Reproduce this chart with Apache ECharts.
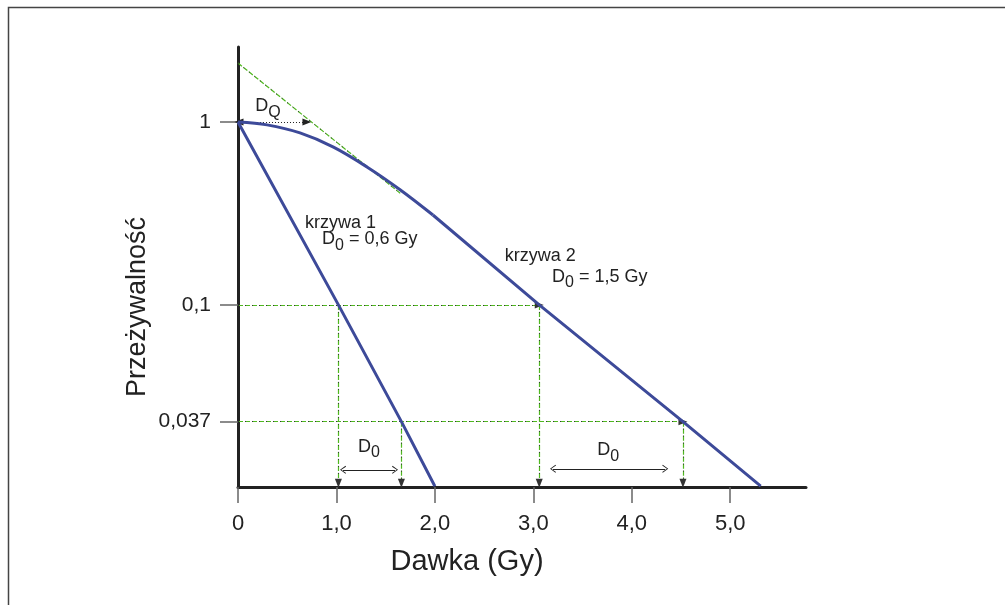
<!DOCTYPE html>
<html>
<head>
<meta charset="utf-8">
<script src="https://cdn.jsdelivr.net/npm/echarts@6/dist/echarts.min.js"></script>
<style>
  html, body { margin: 0; padding: 0; background: #fff; }
  #chart { width: 1005px; height: 605px; }
</style>
</head>
<body>
<div id="chart"></div>
<script>
const FONT = 'Liberation Sans, Arial, sans-serif';

// x axis (dose, Gy)
const xTicks = [0, 1, 2, 3, 4, 5];
const xTickLabels = ['0', '1,0', '2,0', '3,0', '4,0', '5,0'];

// y axis (survival, drawn on a log scale; the 0,037 level sits where the drawing puts it)
const yLevels = [1, 0.1, 0.023];
const yLevelLabels = ['1', '0,1', '0,037'];

// curves: [dose, survival]
const curve1 = [[0, 1], [1.02, 0.1], [1.66, 0.023], [2.0, 0.0102]];
const curve2 = [
    [0, 1], [0.295, 0.964], [0.63, 0.871], [0.97, 0.729], [1.31, 0.568],
    [1.65, 0.425], [1.98, 0.31], [3.06, 0.1], [4.52, 0.023], [5.31, 0.0102]
];
const shoulderEnd = 6; // index where curve 2 becomes straight

// guide lines
const hGuides = [[3.06, 0.1], [4.52, 0.023]];       // [arrow tip x, level]
const vGuides = [[1.02, 0.1], [1.66, 0.023], [3.06, 0.1], [4.52, 0.023]];
const vGuideTip = 0.0106;
const tangent = [[0, 2.1], [1.65, 0.407]];
const dqArrow = [0.01, 0.70, 1];
const d0Arrows = [[1.067, 1.595, 0.01253], [3.20, 4.34, 0.0127]];

// annotation texts
const notes = [
    { text: '{m|krzywa 1}', coord: [0.68, 0.277], pos: 'right' },
    { text: '{m|D}{s|0}{m| = 0,6 Gy}', coord: [0.854, 0.225], pos: 'right' },
    { text: '{m|krzywa 2}', coord: [2.71, 0.183], pos: 'right' },
    { text: '{m|D}{s|0}{m| = 1,5 Gy}', coord: [3.19, 0.141], pos: 'right' },
    { text: '{m|D}{s|0}', coord: [1.33, 0.0165], pos: 'inside' },
    { text: '{m|D}{s|0}', coord: [3.76, 0.0158], pos: 'inside' },
    { text: '{m|D}{s|Q}', coord: [0.305, 1.2], pos: 'inside' }
];

const CURVE = '#3d4a99';
const GREEN = '#4fb81f';
const DARK = '#222';
const chevron = 'path://M0,10 L5,0 L10,10 L9,11 L5,2.4 L1,11 Z';

function seg(a, b, style, s1, s2, size) {
    return [
        { coord: a, symbol: s1 || 'none', symbolSize: size || 8 },
        { coord: b, symbol: s2 || 'none', symbolSize: size || 8, lineStyle: style }
    ];
}

const greenStyle = { color: GREEN, width: 1.2, type: [5, 2], opacity: 1 };
const dotStyle = { color: '#333', width: 1, type: [1, 6], opacity: 1 };
const guideLines = [];
hGuides.forEach(g => {
    guideLines.push(seg([0, g[1]], [g[0], g[1]], greenStyle));
    guideLines.push(seg([0, g[1]], [g[0], g[1]], dotStyle, 'none', 'triangle', [7, 9]));
});
vGuides.forEach(g => {
    guideLines.push(seg([g[0], g[1]], [g[0], vGuideTip], greenStyle));
    guideLines.push(seg([g[0], g[1]], [g[0], vGuideTip], dotStyle, 'none', 'triangle', [7, 9]));
});
guideLines.push(seg(tangent[0], tangent[1], greenStyle));
guideLines.push(seg(tangent[0], tangent[1], dotStyle));
guideLines.push(seg([dqArrow[0], dqArrow[2]], [dqArrow[1], dqArrow[2]],
    { color: DARK, width: 1, type: [1, 2], opacity: 1 }, 'triangle', 'triangle', [7, 9]));
d0Arrows.forEach(a => {
    guideLines.push(seg([a[0], a[2]], [a[1], a[2]],
        { color: DARK, width: 1, type: 'solid', opacity: 1 }, chevron, chevron, [8, 6]));
});

const myChart = echarts.init(document.getElementById('chart'));

const option = {
    backgroundColor: '#fff',
    animation: false,
    textStyle: { fontFamily: FONT },
    grid: { left: 238, top: 47, width: 568, height: 440, containLabel: false },
    xAxis: {
        type: 'value',
        min: 0,
        max: 5.77,
        axisLine: { onZero: false, lineStyle: { color: DARK, width: 3 } },
        axisTick: { customValues: xTicks, length: 16, lineStyle: { color: '#666', width: 1.5 } },
        axisLabel: {
            customValues: xTicks,
            margin: 26,
            fontSize: 22,
            color: DARK,
            fontFamily: FONT,
            formatter: v => xTickLabels[xTicks.indexOf(Math.round(v))]
        },
        splitLine: { show: false }
    },
    yAxis: {
        type: 'log',
        logBase: 10,
        min: 0.0101,
        max: 2.57,
        axisLine: { onZero: false, lineStyle: { color: DARK, width: 3 } },
        axisTick: { customValues: yLevels, length: 18, lineStyle: { color: '#666', width: 1.5 } },
        axisLabel: {
            customValues: yLevels,
            margin: 27,
            fontSize: 21,
            color: DARK,
            fontFamily: FONT,
            formatter: v => {
                const i = yLevels.findIndex(l => Math.abs(l - v) / l < 0.01);
                return i < 0 ? '' : yLevelLabels[i];
            }
        },
        splitLine: { show: false }
    },
    graphic: [
        {
            type: 'rect',
            shape: { x: 8.5, y: 7.5, width: 1010, height: 620 },
            style: { fill: 'none', stroke: '#444', lineWidth: 1.5 },
            silent: true
        },
        {
            type: 'text',
            x: 467, y: 562,
            style: { text: 'Dawka (Gy)', font: '29px ' + FONT, fill: DARK, textAlign: 'center', textVerticalAlign: 'middle' }
        },
        {
            type: 'text',
            x: 138, y: 307,
            rotation: Math.PI / 2,
            style: { text: 'Przeżywalność', font: '27px ' + FONT, fill: DARK, textAlign: 'center', textVerticalAlign: 'middle' }
        }
    ],
    series: [
        {
            name: 'guides',
            type: 'line',
            data: [],
            silent: true,
            markLine: {
                silent: true,
                animation: false,
                label: { show: false },
                symbol: 'none',
                data: guideLines
            }
        },
        {
            name: 'krzywa 1',
            type: 'line',
            data: curve1,
            showSymbol: false,
            lineStyle: { color: CURVE, width: 3 },
            z: 5
        },
        {
            name: 'krzywa 2',
            type: 'line',
            data: curve2.slice(0, shoulderEnd + 1),
            smooth: 0.35,
            showSymbol: false,
            lineStyle: { color: CURVE, width: 3 },
            z: 5
        },
        {
            name: 'krzywa 2 (prosta)',
            type: 'line',
            data: curve2.slice(shoulderEnd),
            showSymbol: false,
            lineStyle: { color: CURVE, width: 3 },
            z: 5
        },
        {
            name: 'notes',
            type: 'scatter',
            symbolSize: 0,
            silent: true,
            itemStyle: { opacity: 1 },
            data: notes.map(n => ({
                value: n.coord,
                label: { position: n.pos, formatter: n.text }
            })),
            label: {
                show: true,
                distance: 0,
                color: DARK,
                rich: {
                    m: { fontSize: 18, fontFamily: FONT, color: DARK, verticalAlign: 'top', lineHeight: 20 },
                    s: { fontSize: 16, fontFamily: FONT, color: DARK, verticalAlign: 'top', lineHeight: 18, padding: [7, 0, 0, 0] }
                }
            }
        }
    ]
};

myChart.setOption(option);
</script>
</body>
</html>
